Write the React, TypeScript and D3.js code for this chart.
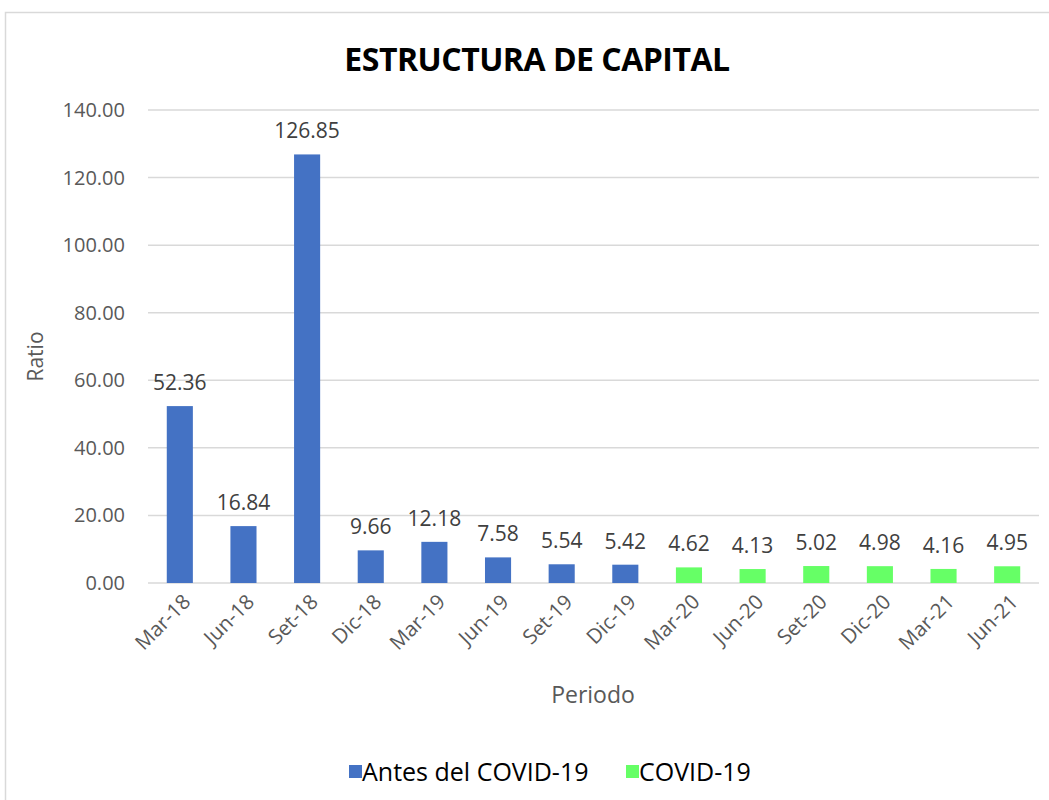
import React from 'react';
import * as d3 from 'd3';

const periods = ['Mar-18', 'Jun-18', 'Set-18', 'Dic-18', 'Mar-19', 'Jun-19', 'Set-19', 'Dic-19',
  'Mar-20', 'Jun-20', 'Set-20', 'Dic-20', 'Mar-21', 'Jun-21'];
const ratios = [52.36, 16.84, 126.85, 9.66, 12.18, 7.58, 5.54, 5.42, 4.62, 4.13, 5.02, 4.98, 4.16, 4.95];
const groups = ['Antes', 'Antes', 'Antes', 'Antes', 'Antes', 'Antes', 'Antes', 'Antes',
  'COVID', 'COVID', 'COVID', 'COVID', 'COVID', 'COVID'];
const yTicks = [0, 20, 40, 60, 80, 100, 120, 140];
const legendNames = ['Antes del COVID-19', 'COVID-19'];

const FONT = 'Open Sans, sans-serif';

const App = () => {
  const width = 1049;
  const height = 800;
  const left = 148, right = 1039, top = 110, bottom = 583;

  const x = d3.scaleBand<string>().domain(periods).range([left, right]).paddingInner(0.59).paddingOuter(0.295);
  const y = d3.scaleLinear().domain([0, 140]).range([bottom, top]);
  const color = d3.scaleOrdinal<string, string>().domain(['Antes', 'COVID']).range(['#4472C4', '#66FF66']);

  return (
    <svg width={width} height={height} style={{ display: 'block', position: 'absolute', left: 0, top: 0 }}>
      <rect x={5.5} y={12.5} width={1060} height={800} fill="#fff" stroke="#d9d9d9" strokeWidth={1.5} />
      <text x={537} y={71} textAnchor="middle" fontFamily={FONT} fontWeight="bold" fontSize={32} fill="#000"
        style={{ letterSpacing: '-0.5px' }}>ESTRUCTURA DE CAPITAL</text>

      {yTicks.map(t => (
        <g key={t}>
          <line x1={left} x2={right} y1={y(t)} y2={y(t)} stroke="#d9d9d9" strokeWidth={1.5} />
          <text x={125} y={y(t)} dy="0.35em" textAnchor="end" fontFamily={FONT} fontSize={20} fill="#595959">
            {t.toFixed(2)}
          </text>
        </g>
      ))}

      {periods.map((p, i) => (
        <g key={p}>
          <rect x={x(p)} y={y(ratios[i])} width={x.bandwidth()} height={y(0) - y(ratios[i])}
            fill={color(groups[i])} />
          <text x={(x(p) as number) + x.bandwidth() / 2} y={y(ratios[i]) - 16} textAnchor="middle"
            fontFamily={FONT} fontSize={21} fill="#404040">{ratios[i].toFixed(2)}</text>
          <text transform={`translate(${(x(p) as number) + x.bandwidth() / 2 + 7},${bottom + 15}) rotate(-45)`}
            textAnchor="end" dy="0.35em" fontFamily={FONT} fontSize={20.5} fill="#595959">{p}</text>
        </g>
      ))}

      <text transform={`translate(43,${(top + bottom) / 2 + 10}) rotate(-90)`} textAnchor="middle"
        fontFamily={FONT} fontSize={21} fill="#595959">Ratio</text>
      <text x={593} y={703} textAnchor="middle" fontFamily={FONT} fontSize={23} fill="#595959">Periodo</text>

      {legendNames.map((n, i) => {
        const lx = [349, 626][i];
        return (
          <g key={n}>
            <rect x={lx} y={765} width={13} height={13} fill={color.range()[i]} />
            <text x={lx + 13} y={772} dy="0.35em" fontFamily={FONT} fontSize={25} fill="#000">{n}</text>
          </g>
        );
      })}
    </svg>
  );
};

export default App;
